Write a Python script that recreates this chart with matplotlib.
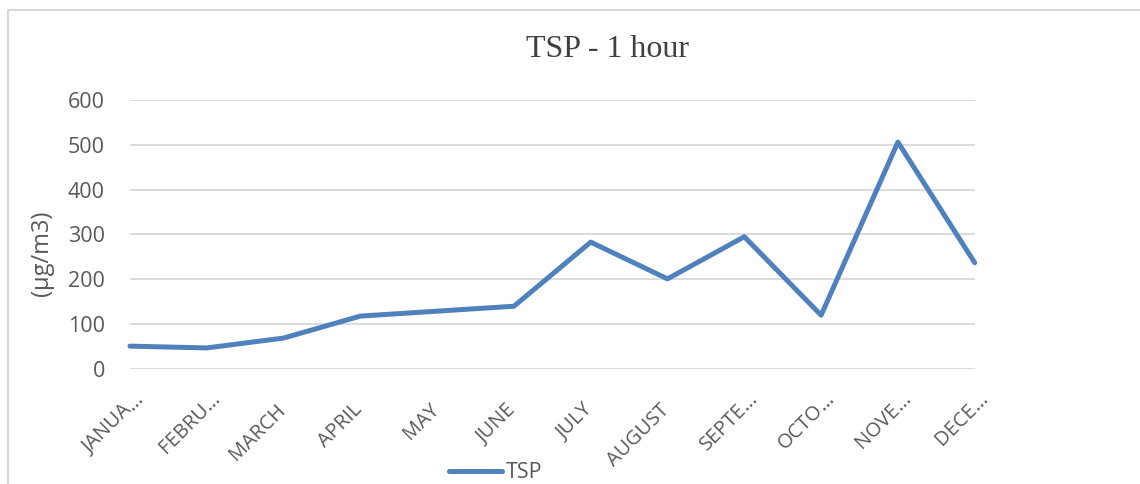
import matplotlib.pyplot as plt
from matplotlib.patches import Rectangle
from matplotlib.transforms import ScaledTranslation

months = ['JANUA…', 'FEBRU…', 'MARCH', 'APRIL', 'MAY', 'JUNE', 'JULY',
          'AUGUST', 'SEPTE…', 'OCTO…', 'NOVE…', 'DECE…']
tsp = [51, 47, 69, 118, 129, 140, 283, 201, 295, 120, 506, 237]
yticks = [0, 100, 200, 300, 400, 500, 600]

plt.rcParams['font.family'] = ['Open Sans', 'DejaVu Sans']

fig = plt.figure(figsize=(11.4, 4.84), dpi=100)
ax = fig.add_axes([0.114, 0.2376, 0.741, 0.5558])

x = list(range(len(months)))
line, = ax.plot(x, tsp, color='#4F81BD', linewidth=3.6, solid_joinstyle='round',
                solid_capstyle='round', label='TSP', clip_on=False)

ax.set_xlim(0, len(months) - 1)
ax.set_ylim(0, 600)
ax.set_yticks(yticks)
ax.set_xticks(x)
ax.set_xticklabels([])

# rotated month labels: the text ends just below the tick, a cut-off
# label's ellipsis hangs past that point like in Excel
off = ScaledTranslation(-1 / 100, -38 / 100, fig.dpi_scale_trans)
lab_kw = dict(transform=ax.get_xaxis_transform() + off, rotation=45, va='center',
              rotation_mode='anchor', fontsize=14.5, color='#595959', clip_on=False)
for i, m in enumerate(months):
    if m.endswith('…'):
        ax.text(i, 0, m[:-1], ha='right', **lab_kw)
        ax.text(i, 0, '…', ha='left', **lab_kw)
    else:
        ax.text(i, 0, m, ha='right', **lab_kw)

ax.tick_params(axis='y', labelsize=15.5, labelcolor='#595959', length=0, pad=18)
ax.tick_params(axis='x', length=0, pad=0)
ax.grid(axis='y', color='#D9D9D9', linewidth=1.3)
ax.set_axisbelow(True)
for s in ax.spines.values():
    s.set_visible(False)

ax.set_ylabel('(µg/m3)', fontsize=17, color='#595959')
ax.yaxis.set_label_coords(-0.090, 0.43)
fig.text(0.533, 0.898, 'TSP - 1 hour', ha='center', va='center', fontsize=23,
         family='Liberation Serif', color='#404040')

fig.legend(handles=[line], loc='center', bbox_to_anchor=(0.435, 0.023), frameon=False,
           fontsize=15.5, labelcolor='#595959', handlelength=2.45, handletextpad=0.2)

fig.patches.append(Rectangle((0.007, -0.01), 1.0, 0.99, transform=fig.transFigure,
                             fill=False, edgecolor='#D9D9D9', linewidth=1.5))

fig.savefig('out.png', dpi=100)
